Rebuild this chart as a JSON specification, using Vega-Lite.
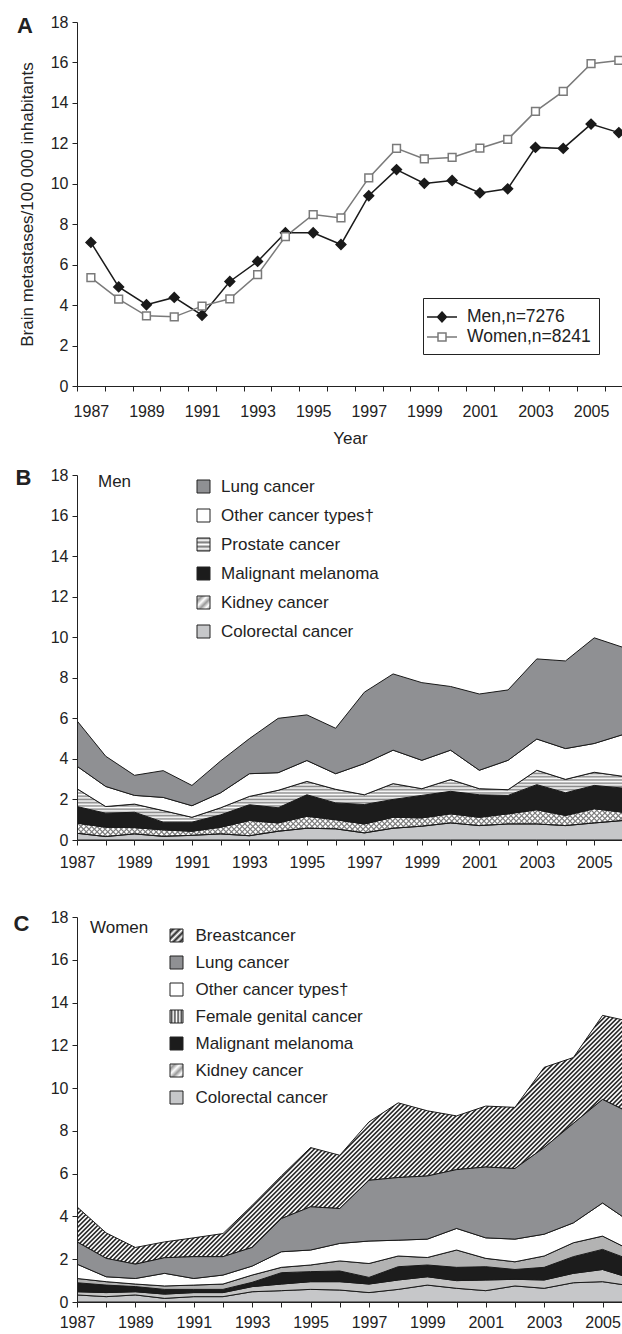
{
"$schema": "https://vega.github.io/schema/vega-lite/v6.json",
"padding": {"left": 13, "top": 14, "right": 0, "bottom": 0},
"config": {
  "font": "Liberation Sans",
  "view": {"stroke": null},
  "axis": {"domainColor": "#222", "tickColor": "#222", "labelColor": "#222", "titleColor": "#222", "labelFontSize": 16, "titleFontSize": 17, "titleFontWeight": "normal", "grid": false, "tickSize": 5, "labelPadding": 4},
  "legend": {"labelFontSize": 17, "labelColor": "#222", "labelLimit": 300, "titleFontWeight": "normal"},
  "title": {"color": "#222"}
},
"spacing": 20,
"resolve": {"scale": {"fill": "independent", "stroke": "independent", "shape": "independent", "size": "independent"}, "legend": {"fill": "independent", "stroke": "independent", "shape": "independent", "size": "independent"}},
"vconcat": [
{
  "width": 546, "height": 364,
  "title": {"text": "A", "anchor": "start", "frame": "group", "dx": -60, "offset": -24, "fontSize": 22, "fontWeight": "bold"},
  "data": {"values": [
    {"year":1987,"sex":"Men","v":7.1},{"year":1988,"sex":"Men","v":4.9},{"year":1989,"sex":"Men","v":4.02},{"year":1990,"sex":"Men","v":4.38},{"year":1991,"sex":"Men","v":3.5},
    {"year":1992,"sex":"Men","v":5.17},{"year":1993,"sex":"Men","v":6.16},{"year":1994,"sex":"Men","v":7.58},{"year":1995,"sex":"Men","v":7.58},{"year":1996,"sex":"Men","v":7.0},
    {"year":1997,"sex":"Men","v":9.41},{"year":1998,"sex":"Men","v":10.7},{"year":1999,"sex":"Men","v":10.02},{"year":2000,"sex":"Men","v":10.16},{"year":2001,"sex":"Men","v":9.55},
    {"year":2002,"sex":"Men","v":9.75},{"year":2003,"sex":"Men","v":11.8},{"year":2004,"sex":"Men","v":11.75},{"year":2005,"sex":"Men","v":12.95},{"year":2006,"sex":"Men","v":12.53},
    {"year":1987,"sex":"Women","v":5.36},{"year":1988,"sex":"Women","v":4.3},{"year":1989,"sex":"Women","v":3.47},{"year":1990,"sex":"Women","v":3.42},{"year":1991,"sex":"Women","v":3.95},
    {"year":1992,"sex":"Women","v":4.31},{"year":1993,"sex":"Women","v":5.51},{"year":1994,"sex":"Women","v":7.39},{"year":1995,"sex":"Women","v":8.48},{"year":1996,"sex":"Women","v":8.31},
    {"year":1997,"sex":"Women","v":10.29},{"year":1998,"sex":"Women","v":11.75},{"year":1999,"sex":"Women","v":11.23},{"year":2000,"sex":"Women","v":11.3},{"year":2001,"sex":"Women","v":11.76},
    {"year":2002,"sex":"Women","v":12.19},{"year":2003,"sex":"Women","v":13.58},{"year":2004,"sex":"Women","v":14.57},{"year":2005,"sex":"Women","v":15.94},{"year":2006,"sex":"Women","v":16.1}
  ]},
  "encoding": {
    "x": {"field": "year", "type": "quantitative", "scale": {"domain": [1986.5, 2006.15], "nice": false, "zero": false},
      "axis": {"values": [1987,1988,1989,1990,1991,1992,1993,1994,1995,1996,1997,1998,1999,2000,2001,2002,2003,2004,2005,2006], "format": "d", "labelExpr": "datum.value % 2 == 1 ? datum.label : ''", "tickOffset": -13.9, "labelOffset": 13.9, "labelFlush": false, "labelOverlap": false, "labelPadding": 12, "title": "Year", "titlePadding": 11}},
    "y": {"field": "v", "type": "quantitative", "scale": {"domain": [0, 18], "nice": false},
      "axis": {"values": [0,2,4,6,8,10,12,14,16,18], "format": "d", "labelOverlap": false, "title": "Brain metastases/100 000 inhabitants", "titlePadding": 14}}
  },
  "layer": [
    {"mark": {"type": "line", "strokeWidth": 1.5},
     "encoding": {"stroke": {"field": "sex", "type": "nominal", "scale": {"domain": ["Men","Women"], "range": ["#1a1a1a","#7a7a7a"]}, "legend": null}}},
    {"mark": {"type": "point", "filled": true, "strokeWidth": 1.5, "opacity": 1},
     "encoding": {
       "shape": {"field": "sex", "type": "nominal", "scale": {"domain": ["Men","Women"], "range": ["diamond","square"]}, "legend": null},
       "fill": {"field": "sex", "type": "nominal", "scale": {"domain": ["Men","Women"], "range": ["#1a1a1a","#ffffff"]}, "legend": null},
       "stroke": {"field": "sex", "type": "nominal", "scale": {"domain": ["Men","Women"], "range": ["#1a1a1a","#7a7a7a"]}, "legend": null},
       "size": {"field": "sex", "type": "nominal", "scale": {"domain": ["Men","Women"], "range": [95, 60]}, "legend": null}}},
    {"transform": [{"filter": "false"}],
     "mark": {"type": "point", "filled": true, "strokeWidth": 1.5, "opacity": 1},
     "encoding": {
       "shape": {"field": "sex", "type": "nominal", "scale": {"domain": ["Men","Women"], "range": ["M-1.5,0L1.5,0M0,-0.5L0.45,0L0,0.5L-0.45,0Z", "M-1.5,0L-0.4,0M0.4,0L1.5,0M-0.4,-0.4L0.4,-0.4L0.4,0.4L-0.4,0.4Z"]},
         "legend": {"orient": "none", "legendX": 346, "legendY": 276, "title": null, "fillColor": "#ffffff", "strokeColor": "#222", "padding": 8, "symbolSize": 400, "symbolStrokeWidth": 1.5, "labelOffset": 14, "rowPadding": 0, "labelFontSize": 17.5, "labelExpr": "datum.label == 'Men' ? 'Men,n=7276' : 'Women,n=8241'"}},
       "fill": {"field": "sex", "type": "nominal", "scale": {"domain": ["Men","Women"], "range": ["#1a1a1a","#ffffff"]}},
       "stroke": {"field": "sex", "type": "nominal", "scale": {"domain": ["Men","Women"], "range": ["#1a1a1a","#7a7a7a"]}}}}
  ],
  "resolve": {"scale": {"fill": "independent", "stroke": "independent", "shape": "independent", "size": "independent"}}
},
{
  "width": 546, "height": 365,
  "title": {"text": "Men", "anchor": "start", "frame": "group", "dx": 21, "offset": -25, "fontSize": 17, "fontWeight": "normal"},
  "data": {"values": [
    {"year":1987,"Colorectal cancer":0.33,"Kidney cancer":0.50,"Malignant melanoma":0.82,"Prostate cancer":0.88,"Other cancer types":1.11,"Lung cancer":2.24},
    {"year":1988,"Colorectal cancer":0.17,"Kidney cancer":0.46,"Malignant melanoma":0.69,"Prostate cancer":0.33,"Other cancer types":0.99,"Lung cancer":1.49},
    {"year":1989,"Colorectal cancer":0.30,"Kidney cancer":0.31,"Malignant melanoma":0.76,"Prostate cancer":0.40,"Other cancer types":0.43,"Lung cancer":0.99},
    {"year":1990,"Colorectal cancer":0.18,"Kidney cancer":0.32,"Malignant melanoma":0.38,"Prostate cancer":0.57,"Other cancer types":0.65,"Lung cancer":1.32},
    {"year":1991,"Colorectal cancer":0.23,"Kidney cancer":0.20,"Malignant melanoma":0.45,"Prostate cancer":0.24,"Other cancer types":0.57,"Lung cancer":1.00},
    {"year":1992,"Colorectal cancer":0.30,"Kidney cancer":0.33,"Malignant melanoma":0.61,"Prostate cancer":0.35,"Other cancer types":0.74,"Lung cancer":1.57},
    {"year":1993,"Colorectal cancer":0.21,"Kidney cancer":0.75,"Malignant melanoma":0.78,"Prostate cancer":0.41,"Other cancer types":1.12,"Lung cancer":1.73},
    {"year":1994,"Colorectal cancer":0.43,"Kidney cancer":0.41,"Malignant melanoma":0.75,"Prostate cancer":0.86,"Other cancer types":0.87,"Lung cancer":2.68},
    {"year":1995,"Colorectal cancer":0.58,"Kidney cancer":0.59,"Malignant melanoma":1.06,"Prostate cancer":0.66,"Other cancer types":1.03,"Lung cancer":2.25},
    {"year":1996,"Colorectal cancer":0.55,"Kidney cancer":0.45,"Malignant melanoma":0.83,"Prostate cancer":0.67,"Other cancer types":0.77,"Lung cancer":2.24},
    {"year":1997,"Colorectal cancer":0.35,"Kidney cancer":0.44,"Malignant melanoma":0.96,"Prostate cancer":0.48,"Other cancer types":1.54,"Lung cancer":3.52},
    {"year":1998,"Colorectal cancer":0.58,"Kidney cancer":0.54,"Malignant melanoma":0.88,"Prostate cancer":0.78,"Other cancer types":1.65,"Lung cancer":3.76},
    {"year":1999,"Colorectal cancer":0.68,"Kidney cancer":0.41,"Malignant melanoma":1.11,"Prostate cancer":0.33,"Other cancer types":1.40,"Lung cancer":3.83},
    {"year":2000,"Colorectal cancer":0.84,"Kidney cancer":0.45,"Malignant melanoma":1.11,"Prostate cancer":0.58,"Other cancer types":1.45,"Lung cancer":3.14},
    {"year":2001,"Colorectal cancer":0.71,"Kidney cancer":0.41,"Malignant melanoma":1.11,"Prostate cancer":0.30,"Other cancer types":0.91,"Lung cancer":3.76},
    {"year":2002,"Colorectal cancer":0.79,"Kidney cancer":0.50,"Malignant melanoma":0.91,"Prostate cancer":0.28,"Other cancer types":1.45,"Lung cancer":3.47},
    {"year":2003,"Colorectal cancer":0.79,"Kidney cancer":0.70,"Malignant melanoma":1.24,"Prostate cancer":0.71,"Other cancer types":1.54,"Lung cancer":3.95},
    {"year":2004,"Colorectal cancer":0.71,"Kidney cancer":0.50,"Malignant melanoma":1.12,"Prostate cancer":0.66,"Other cancer types":1.52,"Lung cancer":4.32},
    {"year":2005,"Colorectal cancer":0.84,"Kidney cancer":0.70,"Malignant melanoma":1.15,"Prostate cancer":0.65,"Other cancer types":1.42,"Lung cancer":5.21},
    {"year":2006,"Colorectal cancer":0.96,"Kidney cancer":0.41,"Malignant melanoma":1.19,"Prostate cancer":0.58,"Other cancer types":2.06,"Lung cancer":4.30}
  ]},
  "transform": [
    {"fold": ["Colorectal cancer","Kidney cancer","Malignant melanoma","Prostate cancer","Other cancer types","Lung cancer"], "as": ["type","v"]},
    {"window": [{"op": "row_number", "as": "k"}], "groupby": ["year"]},
    {"stack": "v", "groupby": ["year"], "sort": [{"field": "k", "order": "ascending"}], "as": ["y0","y1"]}
  ],
  "encoding": {
    "x": {"field": "year", "type": "quantitative", "scale": {"domain": [1987, 2006], "nice": false, "zero": false},
      "axis": {"zindex": 1, "values": [1987,1988,1989,1990,1991,1992,1993,1994,1995,1996,1997,1998,1999,2000,2001,2002,2003,2004,2005,2006], "format": "d", "labelExpr": "datum.value % 2 == 1 ? datum.label : ''", "labelFlush": false, "labelOverlap": false, "labelPadding": 9, "title": " ", "titleFontSize": 12, "titlePadding": 8}},
    "y": {"field": "y1", "type": "quantitative", "scale": {"domain": [0, 18], "nice": false},
      "axis": {"zindex": 1, "values": [0,2,4,6,8,10,12,14,16,18], "format": "d", "labelOverlap": false, "title": "B", "titleAngle": 0, "titleX": -54, "titleY": 2, "titleAlign": "center", "titleBaseline": "middle", "titleFontSize": 22, "titleFontWeight": "bold"}}
  },
  "layer": [
    {"transform": [{"filter": "datum.k == 1 && datum.year == 1987"}],
     "mark": {"type": "rule", "stroke": "#7d7d7d", "strokeWidth": 500, "strokeDash": [1.2, 2.6], "clip": true},
     "encoding": {"x": {"datum": 1982.5}, "y": {"datum": 20.64}, "x2": {"datum": 2010.5}, "y2": {"datum": -19.04}}},
    {"transform": [{"filter": "datum.k == 1 && datum.year == 1987"}],
     "mark": {"type": "rule", "stroke": "#7d7d7d", "strokeWidth": 500, "strokeDash": [1.2, 2.6], "clip": true},
     "encoding": {"x": {"datum": 1982.5}, "y": {"datum": -19.04}, "x2": {"datum": 2010.5}, "y2": {"datum": 20.64}}},
    {"transform": [{"filter": "datum.type == 'Lung cancer'"}],
     "mark": {"type": "area", "fill": "#ffffff", "clip": true},
     "encoding": {"y2": {"datum": 18}}},
    {"transform": [{"filter": "datum.type == 'Colorectal cancer'"}],
     "mark": {"type": "area", "fill": "#c6c7c9", "stroke": "#1a1a1a", "strokeWidth": 1, "clip": true},
     "encoding": {"y2": {"field": "y0"}}},
    {"transform": [{"filter": "datum.type == 'Kidney cancer'"}],
     "mark": {"type": "area", "fill": "#ffffff", "fillOpacity": 0, "stroke": "#1a1a1a", "strokeWidth": 1, "clip": true},
     "encoding": {"y2": {"field": "y0"}}},
    {"transform": [{"filter": "datum.type == 'Malignant melanoma'"}],
     "mark": {"type": "area", "fill": "#1c1c1c", "stroke": "#1a1a1a", "strokeWidth": 1, "clip": true},
     "encoding": {"y2": {"field": "y0"}}},
    {"transform": [{"filter": "datum.type == 'Prostate cancer'"}],
     "mark": {"type": "area", "stroke": "#1a1a1a", "strokeWidth": 1, "clip": true,
       "fill": {"gradient": "linear", "x1": 0, "y1": 0, "x2": 0, "y2": 1, "stops": [
         {"offset":0,"color":"#8a8a8a"},{"offset":0.03125,"color":"#ffffff"},{"offset":0.0625,"color":"#8a8a8a"},{"offset":0.09375,"color":"#ffffff"},
         {"offset":0.125,"color":"#8a8a8a"},{"offset":0.15625,"color":"#ffffff"},{"offset":0.1875,"color":"#8a8a8a"},{"offset":0.21875,"color":"#ffffff"},
         {"offset":0.25,"color":"#8a8a8a"},{"offset":0.28125,"color":"#ffffff"},{"offset":0.3125,"color":"#8a8a8a"},{"offset":0.34375,"color":"#ffffff"},
         {"offset":0.375,"color":"#8a8a8a"},{"offset":0.40625,"color":"#ffffff"},{"offset":0.4375,"color":"#8a8a8a"},{"offset":0.46875,"color":"#ffffff"},
         {"offset":0.5,"color":"#8a8a8a"},{"offset":0.53125,"color":"#ffffff"},{"offset":0.5625,"color":"#8a8a8a"},{"offset":0.59375,"color":"#ffffff"},
         {"offset":0.625,"color":"#8a8a8a"},{"offset":0.65625,"color":"#ffffff"},{"offset":0.6875,"color":"#8a8a8a"},{"offset":0.71875,"color":"#ffffff"},
         {"offset":0.75,"color":"#8a8a8a"},{"offset":0.78125,"color":"#ffffff"},{"offset":0.8125,"color":"#8a8a8a"},{"offset":0.84375,"color":"#ffffff"},
         {"offset":0.875,"color":"#8a8a8a"},{"offset":0.90625,"color":"#ffffff"},{"offset":0.9375,"color":"#8a8a8a"},{"offset":0.96875,"color":"#ffffff"},
         {"offset":1,"color":"#8a8a8a"}]}},
     "encoding": {"y2": {"field": "y0"}}},
    {"transform": [{"filter": "datum.type == 'Other cancer types'"}],
     "mark": {"type": "area", "fill": "#ffffff", "stroke": "#1a1a1a", "strokeWidth": 1, "clip": true},
     "encoding": {"y2": {"field": "y0"}}},
    {"transform": [{"filter": "datum.type == 'Lung cancer'"}],
     "mark": {"type": "area", "fill": "#8f9093", "stroke": "#1a1a1a", "strokeWidth": 1, "clip": true},
     "encoding": {"y2": {"field": "y0"}}},
    {"transform": [{"filter": "false"}],
     "mark": {"type": "square", "stroke": "#222", "strokeWidth": 1, "opacity": 1},
     "encoding": {"fill": {"field": "type", "type": "nominal",
       "scale": {"domain": ["Lung cancer","Other cancer types","Prostate cancer","Malignant melanoma","Kidney cancer","Colorectal cancer"],
         "range": ["#8f9093","#ffffff",{"expr": "{gradient:'linear',x1:0,y1:0,x2:0,y2:1,stops:[{offset:0,color:'#777777'},{offset:0.17,color:'#ffffff'},{offset:0.33,color:'#777777'},{offset:0.5,color:'#ffffff'},{offset:0.67,color:'#777777'},{offset:0.83,color:'#ffffff'},{offset:1,color:'#777777'}]}"},"#1c1c1c",{"expr": "{gradient:'linear',x1:0,y1:0,x2:1,y2:1,stops:[{offset:0,color:'#ffffff'},{offset:0.2,color:'#999999'},{offset:0.4,color:'#ffffff'},{offset:0.6,color:'#999999'},{offset:0.8,color:'#ffffff'},{offset:1,color:'#999999'}]}"},"#c6c7c9"]},
       "legend": {"orient": "none", "legendX": 118, "legendY": 3, "title": null, "symbolType": "square", "symbolSize": 169, "symbolStrokeColor": "#222", "symbolStrokeWidth": 1, "symbolOpacity": 1, "labelFontSize": 17, "labelOffset": 9, "rowPadding": 11, "labelExpr": "datum.label == 'Other cancer types' ? 'Other cancer types†' : datum.label"}}}}
  ]
},
{
  "width": 546, "height": 385,
  "title": {"text": "Women", "anchor": "start", "frame": "group", "dx": 13, "offset": -28, "fontSize": 17, "fontWeight": "normal"},
  "data": {"values": [
    {"year":1987,"Colorectal cancer":0.33,"Kidney cancer":0.15,"Malignant melanoma":0.42,"Female genital cancer":0.20,"Other cancer types":0.67,"Lung cancer":1.04,"Breastcancer":1.64},
    {"year":1988,"Colorectal cancer":0.25,"Kidney cancer":0.19,"Malignant melanoma":0.35,"Female genital cancer":0.16,"Other cancer types":0.23,"Lung cancer":0.86,"Breastcancer":1.19},
    {"year":1989,"Colorectal cancer":0.33,"Kidney cancer":0.15,"Malignant melanoma":0.24,"Female genital cancer":0.12,"Other cancer types":0.26,"Lung cancer":0.67,"Breastcancer":0.78},
    {"year":1990,"Colorectal cancer":0.17,"Kidney cancer":0.20,"Malignant melanoma":0.22,"Female genital cancer":0.16,"Other cancer types":0.59,"Lung cancer":0.73,"Breastcancer":0.74},
    {"year":1991,"Colorectal cancer":0.25,"Kidney cancer":0.19,"Malignant melanoma":0.15,"Female genital cancer":0.20,"Other cancer types":0.31,"Lung cancer":1.02,"Breastcancer":0.88},
    {"year":1992,"Colorectal cancer":0.25,"Kidney cancer":0.19,"Malignant melanoma":0.15,"Female genital cancer":0.25,"Other cancer types":0.42,"Lung cancer":0.86,"Breastcancer":1.08},
    {"year":1993,"Colorectal cancer":0.48,"Kidney cancer":0.24,"Malignant melanoma":0.20,"Female genital cancer":0.34,"Other cancer types":0.42,"Lung cancer":0.87,"Breastcancer":1.97},
    {"year":1994,"Colorectal cancer":0.53,"Kidney cancer":0.31,"Malignant melanoma":0.53,"Female genital cancer":0.25,"Other cancer types":0.73,"Lung cancer":1.55,"Breastcancer":2.00},
    {"year":1995,"Colorectal cancer":0.59,"Kidney cancer":0.36,"Malignant melanoma":0.47,"Female genital cancer":0.31,"Other cancer types":0.70,"Lung cancer":2.02,"Breastcancer":2.77},
    {"year":1996,"Colorectal cancer":0.56,"Kidney cancer":0.39,"Malignant melanoma":0.50,"Female genital cancer":0.47,"Other cancer types":0.82,"Lung cancer":1.63,"Breastcancer":2.49},
    {"year":1997,"Colorectal cancer":0.44,"Kidney cancer":0.40,"Malignant melanoma":0.31,"Female genital cancer":0.65,"Other cancer types":1.05,"Lung cancer":2.84,"Breastcancer":2.73},
    {"year":1998,"Colorectal cancer":0.59,"Kidney cancer":0.44,"Malignant melanoma":0.62,"Female genital cancer":0.50,"Other cancer types":0.74,"Lung cancer":2.93,"Breastcancer":3.49},
    {"year":1999,"Colorectal cancer":0.79,"Kidney cancer":0.39,"Malignant melanoma":0.55,"Female genital cancer":0.35,"Other cancer types":0.86,"Lung cancer":2.95,"Breastcancer":3.05},
    {"year":2000,"Colorectal cancer":0.64,"Kidney cancer":0.36,"Malignant melanoma":0.62,"Female genital cancer":0.81,"Other cancer types":1.01,"Lung cancer":2.75,"Breastcancer":2.51},
    {"year":2001,"Colorectal cancer":0.53,"Kidney cancer":0.50,"Malignant melanoma":0.62,"Female genital cancer":0.39,"Other cancer types":0.96,"Lung cancer":3.31,"Breastcancer":2.85},
    {"year":2002,"Colorectal cancer":0.75,"Kidney cancer":0.31,"Malignant melanoma":0.46,"Female genital cancer":0.36,"Other cancer types":1.06,"Lung cancer":3.30,"Breastcancer":2.86},
    {"year":2003,"Colorectal cancer":0.64,"Kidney cancer":0.39,"Malignant melanoma":0.59,"Female genital cancer":0.53,"Other cancer types":1.02,"Lung cancer":4.05,"Breastcancer":3.75},
    {"year":2004,"Colorectal cancer":0.90,"Kidney cancer":0.44,"Malignant melanoma":0.78,"Female genital cancer":0.65,"Other cancer types":0.93,"Lung cancer":4.65,"Breastcancer":3.08},
    {"year":2005,"Colorectal cancer":0.95,"Kidney cancer":0.57,"Malignant melanoma":0.94,"Female genital cancer":0.62,"Other cancer types":1.55,"Lung cancer":4.84,"Breastcancer":3.93},
    {"year":2006,"Colorectal cancer":0.75,"Kidney cancer":0.35,"Malignant melanoma":0.85,"Female genital cancer":0.45,"Other cancer types":1.30,"Lung cancer":5.10,"Breastcancer":4.30}
  ]},
  "transform": [
    {"fold": ["Colorectal cancer","Kidney cancer","Malignant melanoma","Female genital cancer","Other cancer types","Lung cancer","Breastcancer"], "as": ["type","v"]},
    {"window": [{"op": "row_number", "as": "k"}], "groupby": ["year"]},
    {"stack": "v", "groupby": ["year"], "sort": [{"field": "k", "order": "ascending"}], "as": ["y0","y1"]}
  ],
  "encoding": {
    "x": {"field": "year", "type": "quantitative", "scale": {"domain": [1987, 2005.7], "nice": false, "zero": false},
      "axis": {"zindex": 1, "values": [1987,1988,1989,1990,1991,1992,1993,1994,1995,1996,1997,1998,1999,2000,2001,2002,2003,2004,2005], "format": "d", "labelExpr": "datum.value % 2 == 1 ? datum.label : ''", "labelFlush": false, "labelOverlap": false, "labelPadding": 7, "title": null}},
    "y": {"field": "y1", "type": "quantitative", "scale": {"domain": [0, 18], "nice": false},
      "axis": {"zindex": 1, "values": [0,2,4,6,8,10,12,14,16,18], "format": "d", "labelOverlap": false, "title": "C", "titleAngle": 0, "titleX": -56, "titleY": 6, "titleAlign": "center", "titleBaseline": "middle", "titleFontSize": 22, "titleFontWeight": "bold"}}
  },
  "layer": [
    {"transform": [{"filter": "datum.k == 1 && datum.year == 1987"}],
     "mark": {"type": "rule", "stroke": "#262626", "strokeWidth": 700, "strokeDash": [1.6, 1.6], "clip": true},
     "encoding": {"x": {"datum": 1980.5}, "y": {"datum": 29.34}, "x2": {"datum": 2012.5}, "y2": {"datum": -14.34}}},
    {"transform": [{"filter": "datum.type == 'Breastcancer'"}],
     "mark": {"type": "area", "fill": "#ffffff", "clip": true},
     "encoding": {"y2": {"datum": 18}}},
    {"transform": [{"filter": "datum.type == 'Breastcancer'"}],
     "mark": {"type": "area", "fill": "#ffffff", "fillOpacity": 0, "stroke": "#1a1a1a", "strokeWidth": 1, "clip": true},
     "encoding": {"y2": {"field": "y0"}}},
    {"transform": [{"filter": "datum.type == 'Colorectal cancer'"}],
     "mark": {"type": "area", "fill": "#c6c7c9", "stroke": "#1a1a1a", "strokeWidth": 1, "clip": true},
     "encoding": {"y2": {"field": "y0"}}},
    {"transform": [{"filter": "datum.type == 'Kidney cancer'"}],
     "mark": {"type": "area", "fill": "#c4c4c4", "stroke": "#1a1a1a", "strokeWidth": 1, "clip": true},
     "encoding": {"y2": {"field": "y0"}}},
    {"transform": [{"filter": "datum.type == 'Malignant melanoma'"}],
     "mark": {"type": "area", "fill": "#1c1c1c", "stroke": "#1a1a1a", "strokeWidth": 1, "clip": true},
     "encoding": {"y2": {"field": "y0"}}},
    {"transform": [{"filter": "datum.type == 'Female genital cancer'"}],
     "mark": {"type": "area", "fill": "#b3b3b3", "stroke": "#1a1a1a", "strokeWidth": 1, "clip": true},
     "encoding": {"y2": {"field": "y0"}}},
    {"transform": [{"filter": "datum.type == 'Other cancer types'"}],
     "mark": {"type": "area", "fill": "#ffffff", "stroke": "#1a1a1a", "strokeWidth": 1, "clip": true},
     "encoding": {"y2": {"field": "y0"}}},
    {"transform": [{"filter": "datum.type == 'Lung cancer'"}],
     "mark": {"type": "area", "fill": "#8f9093", "stroke": "#1a1a1a", "strokeWidth": 1, "clip": true},
     "encoding": {"y2": {"field": "y0"}}},
    {"transform": [{"filter": "false"}],
     "mark": {"type": "square", "stroke": "#222", "strokeWidth": 1, "opacity": 1},
     "encoding": {"fill": {"field": "type", "type": "nominal",
       "scale": {"domain": ["Breastcancer","Lung cancer","Other cancer types","Female genital cancer","Malignant melanoma","Kidney cancer","Colorectal cancer"],
         "range": [{"expr": "{gradient:'linear',x1:0,y1:0,x2:1,y2:1,stops:[{offset:0,color:'#ffffff'},{offset:0.125,color:'#222222'},{offset:0.25,color:'#ffffff'},{offset:0.375,color:'#222222'},{offset:0.5,color:'#ffffff'},{offset:0.625,color:'#222222'},{offset:0.75,color:'#ffffff'},{offset:0.875,color:'#222222'},{offset:1,color:'#ffffff'}]}"},
           "#8f9093","#ffffff",
           {"expr": "{gradient:'linear',x1:0,y1:0,x2:1,y2:0,stops:[{offset:0,color:'#ffffff'},{offset:0.125,color:'#444444'},{offset:0.25,color:'#ffffff'},{offset:0.375,color:'#444444'},{offset:0.5,color:'#ffffff'},{offset:0.625,color:'#444444'},{offset:0.75,color:'#ffffff'},{offset:0.875,color:'#444444'},{offset:1,color:'#ffffff'}]}"},
           "#1c1c1c",
           {"expr": "{gradient:'linear',x1:0,y1:0,x2:1,y2:1,stops:[{offset:0,color:'#ffffff'},{offset:0.2,color:'#999999'},{offset:0.4,color:'#ffffff'},{offset:0.6,color:'#999999'},{offset:0.8,color:'#ffffff'},{offset:1,color:'#999999'}]}"},
           "#c6c7c9"]},
       "legend": {"orient": "none", "legendX": 91, "legendY": 10, "title": null, "symbolType": "square", "symbolSize": 169, "symbolStrokeColor": "#222", "symbolStrokeWidth": 1, "symbolOpacity": 1, "labelFontSize": 17, "labelOffset": 10.5, "rowPadding": 9, "labelExpr": "datum.label == 'Other cancer types' ? 'Other cancer types†' : datum.label"}}}}
  ]
}
]
}
